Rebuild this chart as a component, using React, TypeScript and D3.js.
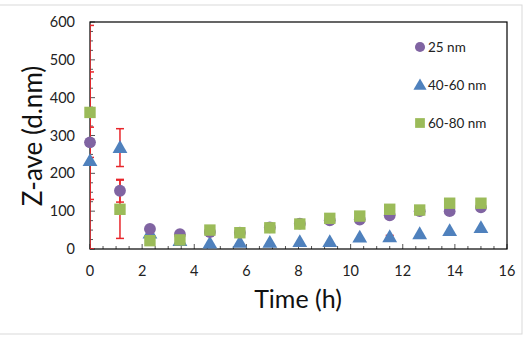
import React, { useEffect, useRef } from 'react';
import * as d3 from 'd3';

const times = [0, 1.15, 2.3, 3.45, 4.6, 5.75, 6.9, 8.05, 9.2, 10.35, 11.5, 12.65, 13.8, 15];
const nm25 = [282, 154, 53, 39, 45, 43, 57, 67, 76, 78, 89, 100, 100, 110];
const nm4060 = [233, 268, 42, 22, 15, 17, 17, 19, 19, 31, 32, 40, 48, 56];
const nm6080 = [361, 105, 22, 24, 50, 43, 56, 66, 81, 87, 105, 103, 121, 121];
const err25 = [40, 30, 0, 0, 0, 0, 0, 0, 0, 0, 0, 0, 0, 0];
const err4060 = [235, 50, 0, 0, 0, 0, 0, 0, 0, 0, 4, 0, 0, 0];
const err6080 = [230, 77, 0, 0, 0, 0, 0, 0, 0, 0, 0, 0, 0, 0];
const xTicks = [0, 2, 4, 6, 8, 10, 12, 14, 16];
const yTicks = [0, 100, 200, 300, 400, 500, 600];
const seriesNames = ['25 nm', '40-60 nm', '60-80 nm'];

const colors = ['#8064A2', '#4F81BD', '#9BBB59'];
const font = 'Lato, Carlito, Calibri, sans-serif';

const App = () => {
  const ref = useRef<SVGSVGElement>(null);

  useEffect(() => {
    const svg = d3.select(ref.current);
    svg.selectAll('*').remove();

    const left = 90, top = 22, right = 507, bottom = 249;
    const x = d3.scaleLinear().domain([0, 16]).range([left, right]);
    const y = d3.scaleLinear().domain([0, 600]).range([bottom, top]);

    // outer frame
    svg.append('rect')
      .attr('x', -1).attr('y', 5).attr('width', 523).attr('height', 329)
      .attr('fill', '#fff').attr('stroke', '#d9d9d9');

    svg.append('defs').append('clipPath').attr('id', 'plotclip')
      .append('rect').attr('x', left).attr('y', top)
      .attr('width', right - left).attr('height', bottom - top);

    // minor ticks
    const ax = svg.append('g').attr('stroke', '#555').attr('stroke-width', 1);
    d3.range(0, 16.01, 0.5).forEach((t) => {
      const major = Math.abs(t % 2) < 1e-6;
      ax.append('line').attr('x1', x(t)).attr('x2', x(t))
        .attr('y1', bottom).attr('y2', bottom - (major ? 5 : 3));
    });
    d3.range(0, 600.1, 25).forEach((v) => {
      const major = v % 100 === 0;
      ax.append('line').attr('x1', left).attr('x2', left + (major ? 5 : 3))
        .attr('y1', y(v)).attr('y2', y(v));
    });

    // plot border
    svg.append('rect')
      .attr('x', left).attr('y', top).attr('width', right - left).attr('height', bottom - top)
      .attr('fill', 'none').attr('stroke', '#000').attr('stroke-width', 1.2);

    // tick labels
    svg.append('g').selectAll('text').data(yTicks).enter().append('text')
      .attr('x', 75).attr('y', (d) => y(d) + 5)
      .attr('text-anchor', 'end').attr('font-size', 14.5).attr('font-family', font)
      .attr('fill', '#222').text((d) => d);
    svg.append('g').selectAll('text').data(xTicks).enter().append('text')
      .attr('x', (d) => x(d)).attr('y', 276)
      .attr('text-anchor', 'middle').attr('font-size', 14.5).attr('font-family', font)
      .attr('fill', '#222').text((d) => d);

    // error bars
    const eb = svg.append('g').attr('clip-path', 'url(#plotclip)')
      .attr('stroke', '#E8262B').attr('stroke-width', 1.5);
    [[nm25, err25], [nm4060, err4060], [nm6080, err6080]].forEach(([vals, errs]) => {
      times.forEach((t, i) => {
        const e = errs[i];
        if (!e) return;
        const lo = y(Math.max(0, vals[i] - e));
        const hi = y(vals[i] + e);
        eb.append('line').attr('x1', x(t)).attr('x2', x(t)).attr('y1', lo).attr('y2', hi);
        eb.append('line').attr('x1', x(t) - 4).attr('x2', x(t) + 4).attr('y1', lo).attr('y2', lo);
        eb.append('line').attr('x1', x(t) - 4).attr('x2', x(t) + 4).attr('y1', hi).attr('y2', hi);
      });
    });

    const symbols = [d3.symbolCircle, d3.symbolTriangle, d3.symbolSquare];
    const sizes = [110, 95, 130];
    const series = [nm25, nm4060, nm6080];
    // triangles underneath, then circles, then squares on top
    [1, 0, 2].forEach((s) => {
      const sym = d3.symbol().type(symbols[s]).size(sizes[s]);
      svg.append('g').selectAll('path').data(series[s]).enter().append('path')
        .attr('d', sym())
        .attr('transform', (d, i) => `translate(${x(times[i])},${y(d) + (s === 1 ? 1 : 0)})`)
        .attr('fill', colors[s]);
    });

    // legend
    const lg = svg.append('g');
    seriesNames.forEach((name, s) => {
      const ly = 47 + s * 38;
      const sym = d3.symbol().type(symbols[s]).size(s === 1 ? 75 : s === 2 ? 95 : 80);
      lg.append('path').attr('d', sym()).attr('fill', colors[s])
        .attr('transform', `translate(420,${ly + (s === 1 ? 1 : 0)})`);
      lg.append('text').attr('x', 428).attr('y', ly + 5)
        .attr('font-size', 13.5).attr('font-family', font).attr('fill', '#222').text(name);
    });

    // axis titles
    svg.append('text')
      .attr('transform', `translate(42,136) rotate(-90)`)
      .attr('text-anchor', 'middle').attr('font-size', 26).attr('font-family', font)
      .attr('fill', '#111').text('Z-ave (d.nm)');
    svg.append('text')
      .attr('x', 298).attr('y', 308)
      .attr('text-anchor', 'middle').attr('font-size', 25).attr('font-family', font)
      .attr('fill', '#111').text('Time (h)');
  }, []);

  return (
    <svg ref={ref} width={532} height={345}
      style={{ position: 'absolute', left: 0, top: 0, background: '#fff' }} />
  );
};

export default App;
